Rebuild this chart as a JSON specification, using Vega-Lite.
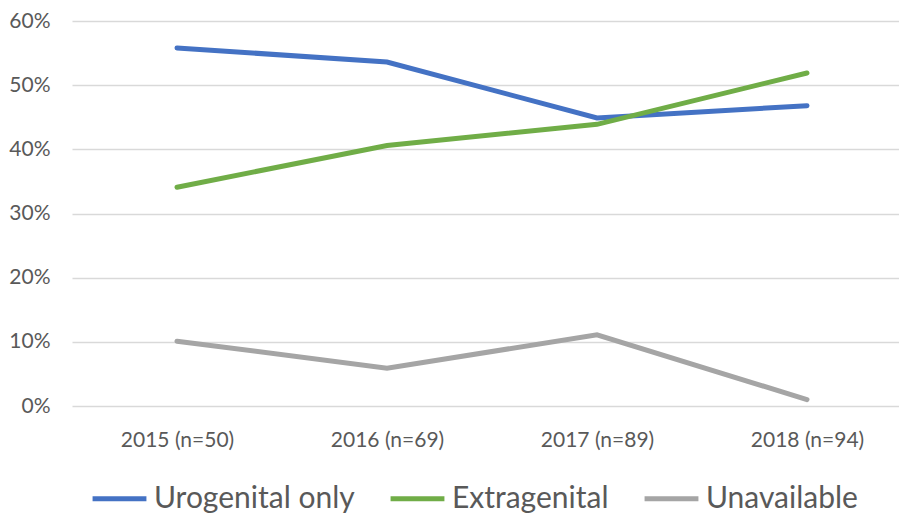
{
  "$schema": "https://vega.github.io/schema/vega-lite/v6.json",
  "autosize": "none",
  "padding": {"left": 72, "top": 21, "right": 0, "bottom": 111},
  "width": 840,
  "height": 385,
  "background": "white",
  "data": {
    "values": [
      {"year": "2015 (n=50)", "series": "Urogenital only", "value": 0.558},
      {"year": "2016 (n=69)", "series": "Urogenital only", "value": 0.536},
      {"year": "2017 (n=89)", "series": "Urogenital only", "value": 0.449},
      {"year": "2018 (n=94)", "series": "Urogenital only", "value": 0.468},
      {"year": "2015 (n=50)", "series": "Extragenital", "value": 0.341},
      {"year": "2016 (n=69)", "series": "Extragenital", "value": 0.406},
      {"year": "2017 (n=89)", "series": "Extragenital", "value": 0.439},
      {"year": "2018 (n=94)", "series": "Extragenital", "value": 0.519},
      {"year": "2015 (n=50)", "series": "Unavailable", "value": 0.101},
      {"year": "2016 (n=69)", "series": "Unavailable", "value": 0.059},
      {"year": "2017 (n=89)", "series": "Unavailable", "value": 0.111},
      {"year": "2018 (n=94)", "series": "Unavailable", "value": 0.010}
    ]
  },
  "mark": {"type": "line", "strokeWidth": 5, "strokeCap": "round", "strokeJoin": "miter"},
  "encoding": {
    "x": {
      "field": "year", "type": "ordinal",
      "scale": {"type": "point", "padding": 0.5},
      "axis": {"title": null, "labelAngle": 0, "domain": false, "ticks": false, "labelPadding": 23, "labelFontSize": 21, "labelColor": "#595959", "labelFont": "Lato"}
    },
    "y": {
      "field": "value", "type": "quantitative",
      "scale": {"domain": [0, 0.6], "nice": false},
      "axis": {"title": null, "values": [0, 0.1, 0.2, 0.3, 0.4, 0.5, 0.6], "format": ".0%", "domain": false, "ticks": false, "labelPadding": 22, "labelFontSize": 21, "labelColor": "#595959", "labelFont": "Lato", "gridColor": "#D9D9D9", "gridWidth": 1.5}
    },
    "color": {
      "field": "series", "type": "nominal",
      "scale": {"domain": ["Urogenital only", "Extragenital", "Unavailable"], "range": ["#4472C4", "#70AD47", "#A5A5A5"]},
      "legend": {
        "title": null, "orient": "none", "direction": "horizontal",
        "legendX": 18, "legendY": 448,
        "symbolType": "stroke", "symbolSize": 2900, "symbolStrokeWidth": 5,
        "labelFontSize": 30, "labelColor": "#595959", "labelFont": "Lato", "labelLimit": 400,
        "labelOffset": 5, "columnPadding": 25
      }
    }
  },
  "config": {"view": {"stroke": null}}
}
